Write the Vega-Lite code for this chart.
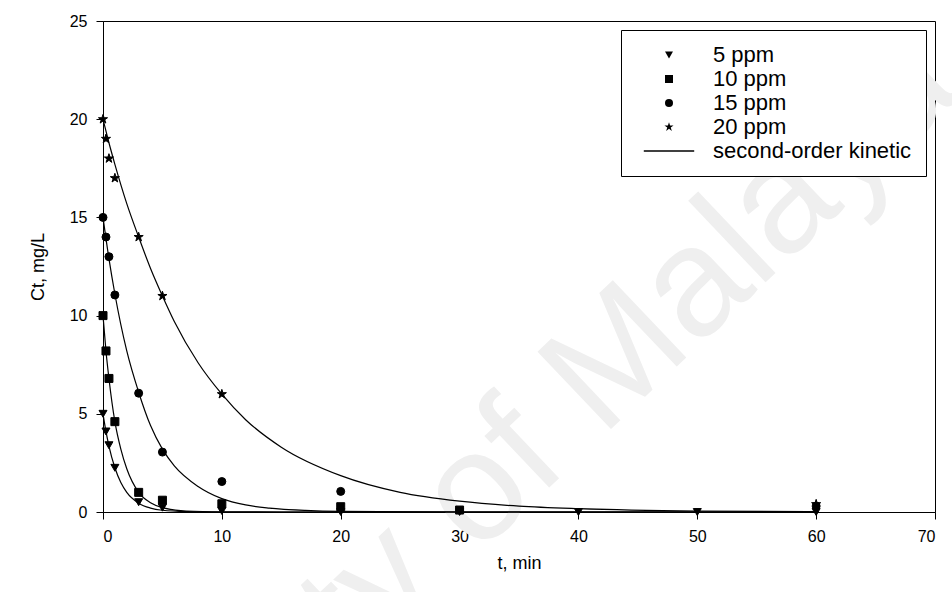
{
  "$schema": "https://vega.github.io/schema/vega-lite/v6.json",
  "width": 832,
  "height": 491,
  "autosize": {"type": "none"},
  "padding": {"left": 103, "top": 21, "right": 17, "bottom": 80},
  "background": "white",
  "config": {
    "font": "Liberation Sans",
    "view": {"stroke": "black", "strokeWidth": 1},
    "axis": {
      "grid": false,
      "domainColor": "black",
      "tickColor": "black",
      "tickSize": 7,
      "labelColor": "black",
      "labelFont": "Liberation Sans",
      "labelFontSize": 16,
      "titleFont": "Liberation Sans",
      "titleFontSize": 18,
      "titleFontWeight": "normal",
      "titleColor": "black",
      "labelPadding": 9
    },
    "legend": {
      "orient": "none",
      "legendX": 518,
      "legendY": 9,
      "strokeColor": "black",
      "strokeWidth": 1,
      "fillColor": "white",
      "padding": 14,
      "labelFont": "Liberation Sans",
      "labelFontSize": 22,
      "labelColor": "black",
      "symbolFillColor": "black",
      "symbolStrokeColor": "black",
      "symbolStrokeWidth": 1,
      "symbolSize": 64,
      "symbolOffset": 23,
      "labelOffset": 33,
      "rowPadding": 2,
      "labelLimit": 400
    }
  },
  "datasets": {
    "points": [
      {"series": "5 ppm", "t": 0, "c": 5},
      {"series": "5 ppm", "t": 0.25, "c": 4.1},
      {"series": "5 ppm", "t": 0.5, "c": 3.4},
      {"series": "5 ppm", "t": 1, "c": 2.25},
      {"series": "5 ppm", "t": 3, "c": 0.5},
      {"series": "5 ppm", "t": 5, "c": 0.22},
      {"series": "5 ppm", "t": 10, "c": 0.05},
      {"series": "5 ppm", "t": 20, "c": 0},
      {"series": "5 ppm", "t": 30, "c": 0},
      {"series": "5 ppm", "t": 40, "c": 0},
      {"series": "5 ppm", "t": 50, "c": 0},
      {"series": "5 ppm", "t": 60, "c": 0},
      {"series": "10 ppm", "t": 0, "c": 10},
      {"series": "10 ppm", "t": 0.25, "c": 8.2},
      {"series": "10 ppm", "t": 0.5, "c": 6.8},
      {"series": "10 ppm", "t": 1, "c": 4.6},
      {"series": "10 ppm", "t": 3, "c": 1.0},
      {"series": "10 ppm", "t": 5, "c": 0.6},
      {"series": "10 ppm", "t": 10, "c": 0.42},
      {"series": "10 ppm", "t": 20, "c": 0.27},
      {"series": "10 ppm", "t": 30, "c": 0.1},
      {"series": "15 ppm", "t": 0, "c": 15},
      {"series": "15 ppm", "t": 0.25, "c": 14},
      {"series": "15 ppm", "t": 0.5, "c": 13},
      {"series": "15 ppm", "t": 1, "c": 11.05},
      {"series": "15 ppm", "t": 3, "c": 6.05},
      {"series": "15 ppm", "t": 5, "c": 3.05},
      {"series": "15 ppm", "t": 10, "c": 1.55},
      {"series": "15 ppm", "t": 20, "c": 1.05},
      {"series": "15 ppm", "t": 60, "c": 0.3},
      {"series": "20 ppm", "t": 0, "c": 20},
      {"series": "20 ppm", "t": 0.25, "c": 19},
      {"series": "20 ppm", "t": 0.5, "c": 18},
      {"series": "20 ppm", "t": 1, "c": 17},
      {"series": "20 ppm", "t": 3, "c": 14},
      {"series": "20 ppm", "t": 5, "c": 11},
      {"series": "20 ppm", "t": 10, "c": 6},
      {"series": "20 ppm", "t": 60, "c": 0.4}
    ],
    "curves": [
      {"series": "20 ppm", "t": 0, "c": 20},
      {"series": "20 ppm", "t": 0.5, "c": 18.8},
      {"series": "20 ppm", "t": 1, "c": 17.7},
      {"series": "20 ppm", "t": 2, "c": 15.7},
      {"series": "20 ppm", "t": 3, "c": 14},
      {"series": "20 ppm", "t": 4, "c": 12.4},
      {"series": "20 ppm", "t": 5, "c": 11},
      {"series": "20 ppm", "t": 6, "c": 9.7},
      {"series": "20 ppm", "t": 8, "c": 7.6},
      {"series": "20 ppm", "t": 10, "c": 6},
      {"series": "20 ppm", "t": 12, "c": 4.7},
      {"series": "20 ppm", "t": 15, "c": 3.3},
      {"series": "20 ppm", "t": 20, "c": 1.85},
      {"series": "20 ppm", "t": 25, "c": 1.0},
      {"series": "20 ppm", "t": 30, "c": 0.55},
      {"series": "20 ppm", "t": 35, "c": 0.3},
      {"series": "20 ppm", "t": 40, "c": 0.17},
      {"series": "20 ppm", "t": 50, "c": 0.05},
      {"series": "20 ppm", "t": 60, "c": 0.02},
      {"series": "15 ppm", "t": 0, "c": 15},
      {"series": "15 ppm", "t": 0.5, "c": 12.9},
      {"series": "15 ppm", "t": 1, "c": 11.1},
      {"series": "15 ppm", "t": 2, "c": 8.2},
      {"series": "15 ppm", "t": 3, "c": 6.1},
      {"series": "15 ppm", "t": 4, "c": 4.4},
      {"series": "15 ppm", "t": 5, "c": 3.2},
      {"series": "15 ppm", "t": 6, "c": 2.35},
      {"series": "15 ppm", "t": 8, "c": 1.3},
      {"series": "15 ppm", "t": 10, "c": 0.68},
      {"series": "15 ppm", "t": 12, "c": 0.36},
      {"series": "15 ppm", "t": 14, "c": 0.2},
      {"series": "15 ppm", "t": 17, "c": 0.08},
      {"series": "15 ppm", "t": 20, "c": 0.03},
      {"series": "15 ppm", "t": 30, "c": 0},
      {"series": "15 ppm", "t": 60, "c": 0},
      {"series": "10 ppm", "t": 0, "c": 10},
      {"series": "10 ppm", "t": 0.25, "c": 8.2},
      {"series": "10 ppm", "t": 0.5, "c": 6.8},
      {"series": "10 ppm", "t": 1, "c": 4.6},
      {"series": "10 ppm", "t": 1.5, "c": 3.2},
      {"series": "10 ppm", "t": 2, "c": 2.2},
      {"series": "10 ppm", "t": 3, "c": 1.0},
      {"series": "10 ppm", "t": 4, "c": 0.47},
      {"series": "10 ppm", "t": 5, "c": 0.22},
      {"series": "10 ppm", "t": 7, "c": 0.05},
      {"series": "10 ppm", "t": 10, "c": 0.01},
      {"series": "10 ppm", "t": 15, "c": 0},
      {"series": "10 ppm", "t": 60, "c": 0},
      {"series": "5 ppm", "t": 0, "c": 5},
      {"series": "5 ppm", "t": 0.25, "c": 4.1},
      {"series": "5 ppm", "t": 0.5, "c": 3.35},
      {"series": "5 ppm", "t": 1, "c": 2.25},
      {"series": "5 ppm", "t": 1.5, "c": 1.5},
      {"series": "5 ppm", "t": 2, "c": 1.0},
      {"series": "5 ppm", "t": 3, "c": 0.45},
      {"series": "5 ppm", "t": 4, "c": 0.2},
      {"series": "5 ppm", "t": 5, "c": 0.09},
      {"series": "5 ppm", "t": 7, "c": 0.02},
      {"series": "5 ppm", "t": 10, "c": 0},
      {"series": "5 ppm", "t": 60, "c": 0}
    ]
  },
  "layer": [
    {
      "data": {"values": [{"label": "University of Malaya"}]},
      "mark": {"type": "text", "align": "right", "baseline": "alphabetic", "angle": -43.5, "fontSize": 155, "font": "Liberation Sans", "color": "#efefef"},
      "encoding": {
        "x": {"datum": 72.46, "type": "quantitative", "scale": {"domain": [0, 70], "nice": false}},
        "y": {"datum": 21.29, "type": "quantitative", "scale": {"domain": [0, 25], "nice": false}},
        "text": {"field": "label"}
      }
    },
    {
      "data": {"name": "curves"},
      "mark": {"type": "line", "interpolate": "monotone", "color": "black", "strokeWidth": 1.2},
      "encoding": {
        "x": {"field": "t", "type": "quantitative"},
        "y": {"field": "c", "type": "quantitative"},
        "detail": {"field": "series"}
      }
    },
    {
      "data": {"name": "points"},
      "mark": {"type": "point", "filled": true, "fill": "black", "stroke": "black", "strokeWidth": 1, "size": 64, "opacity": 1},
      "encoding": {
        "x": {
          "field": "t", "type": "quantitative",
          "scale": {"domain": [0, 70], "nice": false},
          "axis": {"values": [0, 10, 20, 30, 40, 50, 60, 70], "title": "t, min", "titlePadding": 10}
        },
        "y": {
          "field": "c", "type": "quantitative",
          "scale": {"domain": [0, 25], "nice": false},
          "axis": {"values": [0, 5, 10, 15, 20, 25], "title": "Ct, mg/L", "titlePadding": 22}
        },
        "shape": {
          "field": "series", "type": "nominal",
          "scale": {
            "domain": ["5 ppm", "10 ppm", "15 ppm", "20 ppm", "second-order kinetic"],
            "range": ["triangle-down", "square", "circle", "M0,-1.2L0.27,-0.37L1.14,-0.37L0.44,0.14L0.71,0.97L0,0.46L-0.71,0.97L-0.44,0.14L-1.14,-0.37L-0.27,-0.37Z", "M-6.3,-0.16L6.3,-0.16L6.3,0.16L-6.3,0.16Z"]
          },
          "legend": {
            "title": null,
            "encode": {
              "symbols": {
                "update": {
                  "fill": {"value": "black"},
                  "opacity": {"value": 1}
                }
              }
            }
          }
        }
      }
    }
  ]
}
